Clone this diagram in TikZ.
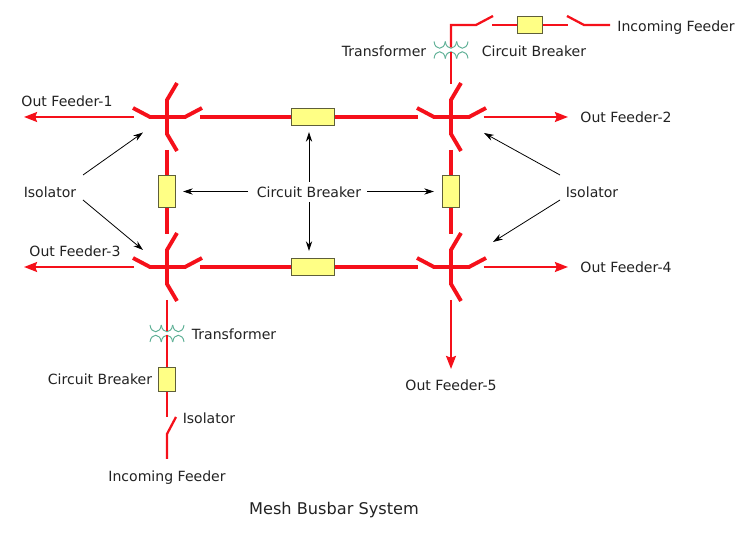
\documentclass[tikz,border=0pt]{standalone}
\usepackage{fontspec}
\setmainfont{DejaVu Sans}
\usetikzlibrary{arrows.meta}
\definecolor{busred}{HTML}{F5101A}
\definecolor{coilgreen}{HTML}{5FB096}
\definecolor{boxyellow}{HTML}{FFFF85}
\definecolor{boxedge}{HTML}{5E5E3A}
\definecolor{labelgrey}{HTML}{222222}
\tikzset{
    bus/.style={draw=busred, line width=2.2pt},
    feeder/.style={draw=busred, line width=1.3pt},
    outfeed/.style={feeder, -{Stealth[length=7.4pt, width=5.6pt, inset=1pt]}},
    breaker/.style={draw=boxedge, fill=boxyellow, line width=0.6pt, inner sep=0pt},
    pointer/.style={draw=black, line width=0.45pt, -{Stealth[length=5.6pt, width=3.6pt]}},
    label/.style={text=labelgrey, font=\fontsize{8}{9}\selectfont, inner sep=0pt, text height=5.8pt, text depth=0pt}
}
% junction of the bus and the feeder, blades on all four sides
\newcommand{\busjunction}[3]{
    \begin{scope}[shift={(#1,#2)}]
        \draw[bus] (-34,-9) -- (-17,0) -- (18,0) -- (35,-9);
        \draw[bus] (10,-34) -- (0,-17) -- (0,17) -- (10,34);
        \coordinate (#3-w) at (-33,0);
        \coordinate (#3-e) at (32.5,0);
        \coordinate (#3-n) at (0,-33);
        \coordinate (#3-s) at (0,33);
    \end{scope}
}
% two rows of coils
\newcommand{\transformer}[3]{
    \begin{scope}[shift={(#1,#2)}]
        \foreach \i in {-17,-5.7,5.7} {
            \draw[coilgreen, line width=0.55pt] (\i,-8.5) .. controls (\i+1,0.5) and (\i+10.3,0.5) .. (\i+11.3,-8.5);
            \draw[coilgreen, line width=0.55pt] (\i,8.5) .. controls (\i+1,-0.5) and (\i+10.3,-0.5) .. (\i+11.3,8.5);
        }
        \coordinate (#3-up) at (0,-2.5);
        \coordinate (#3-low) at (0,2);
    \end{scope}
}
\begin{document}
\begin{tikzpicture}[x=0.02cm, y=-0.02cm]
    \useasboundingbox (0,0) rectangle (750,546);

    \busjunction{167}{117}{ja}
    \busjunction{451}{117}{jb}
    \busjunction{167}{267}{jc}
    \busjunction{451}{267}{jd}

    \transformer{451}{50}{tra}
    \transformer{167}{333.5}{trb}

    % breakers
    \node[breaker, minimum width=24pt, minimum height=9.6pt] (cbtop) at (313,117) {};
    \node[breaker, minimum width=24pt, minimum height=9.6pt] (cbbot) at (313,267) {};
    \node[breaker, minimum width=9.6pt, minimum height=18.7pt] (cbleft) at (167,191.5) {};
    \node[breaker, minimum width=9.6pt, minimum height=18.7pt] (cbright) at (451,191.5) {};
    \node[breaker, minimum width=14.6pt, minimum height=9.8pt] (cbinright) at (530,25) {};
    \node[breaker, minimum width=9.6pt, minimum height=14pt] (cbinleft) at (167,379.5) {};

    % the mesh
    \draw[bus] (ja-e) -- (cbtop);
    \draw[bus] (cbtop) -- (jb-w);
    \draw[bus] (jc-e) -- (cbbot);
    \draw[bus] (cbbot) -- (jd-w);
    \draw[bus] (ja-s) -- (cbleft);
    \draw[bus] (cbleft) -- (jc-n);
    \draw[bus] (jb-s) -- (cbright);
    \draw[bus] (cbright) -- (jd-n);

    % out feeders
    \coordinate (outa) at (24,117);
    \coordinate (outb) at (568,117);
    \coordinate (outc) at (24,267);
    \coordinate (outd) at (568,267);
    \coordinate (oute) at (451,369);
    \draw[outfeed] (ja-w) -- (outa);
    \draw[outfeed] (jb-e) -- (outb);
    \draw[outfeed] (jc-w) -- (outc);
    \draw[outfeed] (jd-e) -- (outd);
    \draw[outfeed] (jd-s) -- (oute);

    % incoming feeder at the top
    \coordinate (inta) at (476,25);
    \coordinate (intb) at (493,16);
    \coordinate (intc) at (492,25);
    \coordinate (intd) at (568,25);
    \coordinate (inte) at (567,16);
    \coordinate (intf) at (584,25);
    \coordinate (intg) at (610,25);
    \draw[feeder] (jb-n) -- (tra-low);
    \draw[feeder] (tra-up) |- (inta) -- (intb);
    \draw[feeder] (intc) -- (cbinright);
    \draw[feeder] (cbinright) -- (intd);
    \draw[feeder] (inte) -- (intf) -- (intg);

    % incoming feeder at the bottom
    \coordinate (inba) at (167,417);
    \coordinate (inbb) at (176,417);
    \coordinate (inbc) at (167,434);
    \coordinate (inbd) at (167,459);
    \draw[feeder] (jc-s) -- (trb-up);
    \draw[feeder] (trb-low) -- (cbinleft);
    \draw[feeder] (cbinleft) -- (inba);
    \draw[feeder] (inbb) -- (inbc) -- (inbd);

    % labels
    \node[label] (lblouta) at (67,101) {Out Feeder-1};
    \node[label] (lbloutb) at (626,117) {Out Feeder-2};
    \node[label] (lbloutc) at (75,251) {Out Feeder-3};
    \node[label] (lbloutd) at (626,267) {Out Feeder-4};
    \node[label] (lbloute) at (451,385) {Out Feeder-5};
    \node[label] (lblinta) at (676,26) {Incoming Feeder};
    \node[label] (lblinba) at (167,476) {Incoming Feeder};
    \node[label] (lbltra) at (384,51) {Transformer};
    \node[label] (lbltrb) at (234,334) {Transformer};
    \node[label] (lblcbtop) at (534,51) {Circuit Breaker};
    \node[label] (lblcbbot) at (100,379) {Circuit Breaker};
    \node[label] (lblcb) at (309,192) {Circuit Breaker};
    \node[label] (lblisobot) at (209,418) {Isolator};
    \node[label] (lblisol) at (50,192) {Isolator};
    \node[label] (lblisor) at (592,192) {Isolator};
    \node[label, font=\fontsize{9.2}{11}\selectfont, text height=6.7pt] (title) at (334,509) {Mesh Busbar System};

    % pointers from the labels
    \coordinate (isola) at (83,175);
    \coordinate (isolb) at (83,200);
    \coordinate (isora) at (560,175);
    \coordinate (isorb) at (560,200);
    \coordinate (tipa) at (143,132.5);
    \coordinate (tipb) at (143,250);
    \coordinate (tipc) at (484,133);
    \coordinate (tipd) at (493,242);
    \coordinate (tipe) at (183,191.5);
    \coordinate (tipf) at (434,191.5);
    \coordinate (tipg) at (309,132);
    \coordinate (tiph) at (309,251);
    \coordinate (cbfroml) at (248,191.5);
    \coordinate (cbfromr) at (367,191.5);
    \coordinate (cbfromt) at (309,182);
    \coordinate (cbfromb) at (309,202);
    \draw[pointer] (isola) -- (tipa);
    \draw[pointer] (isolb) -- (tipb);
    \draw[pointer] (isora) -- (tipc);
    \draw[pointer] (isorb) -- (tipd);
    \draw[pointer] (cbfroml) -- (tipe);
    \draw[pointer] (cbfromr) -- (tipf);
    \draw[pointer] (cbfromt) -- (tipg);
    \draw[pointer] (cbfromb) -- (tiph);
\end{tikzpicture}
\end{document}
